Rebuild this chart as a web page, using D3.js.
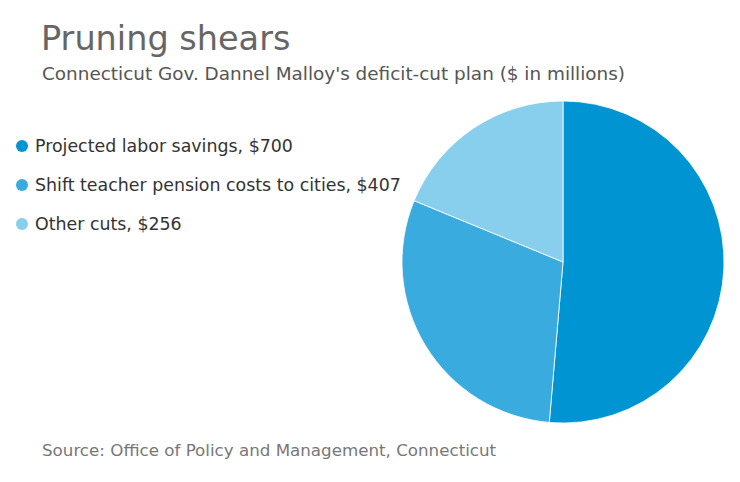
<!DOCTYPE html>
<html>
<head>
<meta charset="utf-8">
<script src="https://cdn.jsdelivr.net/npm/d3@7"></script>
<style>
  body { margin: 0; background: #fff; }
  svg text { font-family: "DejaVu Sans", Verdana, sans-serif; }
</style>
</head>
<body>
<svg id="chart"></svg>
<script>
// data
const labels = ["Projected labor savings", "Shift teacher pension costs to cities", "Other cuts"];
const values = [700, 407, 256];
const colors = ["#0094d2", "#3aabdf", "#88cfed"];

const width = 740, height = 482;
const svg = d3.select("#chart")
    .attr("width", width)
    .attr("height", height);

svg.append("text")
    .attr("x", 41).attr("y", 50)
    .attr("fill", "#666")
    .style("font-size", "33.5px")
    .text("Pruning shears");

svg.append("text")
    .attr("x", 42).attr("y", 80)
    .attr("fill", "#555")
    .style("font-size", "18.4px")
    .text("Connecticut Gov. Dannel Malloy's deficit-cut plan ($ in millions)");

// legend
const legend = svg.append("g").attr("transform", "translate(0,146)");
const rows = legend.selectAll("g")
    .data(labels)
    .enter().append("g")
    .attr("transform", (d, i) => `translate(0, ${i * 39})`);
rows.append("circle")
    .attr("cx", 22).attr("cy", 0).attr("r", 6)
    .attr("fill", (d, i) => colors[i]);
rows.append("text")
    .attr("x", 35).attr("y", 6)
    .attr("fill", "#333")
    .style("font-size", "17.4px")
    .text((d, i) => `${d}, $${values[i]}`);

// pie
const radius = 161;
const pie = d3.pie().sort(null).value(d => d);
const arc = d3.arc().innerRadius(0).outerRadius(radius);
const g = svg.append("g").attr("transform", "translate(563,262)");
g.selectAll("path")
    .data(pie(values))
    .enter().append("path")
    .attr("d", arc)
    .attr("fill", (d, i) => colors[i])
    .attr("stroke", "#fff")
    .attr("stroke-width", 0.8);

svg.append("text")
    .attr("x", 42).attr("y", 456)
    .attr("fill", "#777")
    .style("font-size", "16.7px")
    .text("Source: Office of Policy and Management, Connecticut");
</script>
</body>
</html>
